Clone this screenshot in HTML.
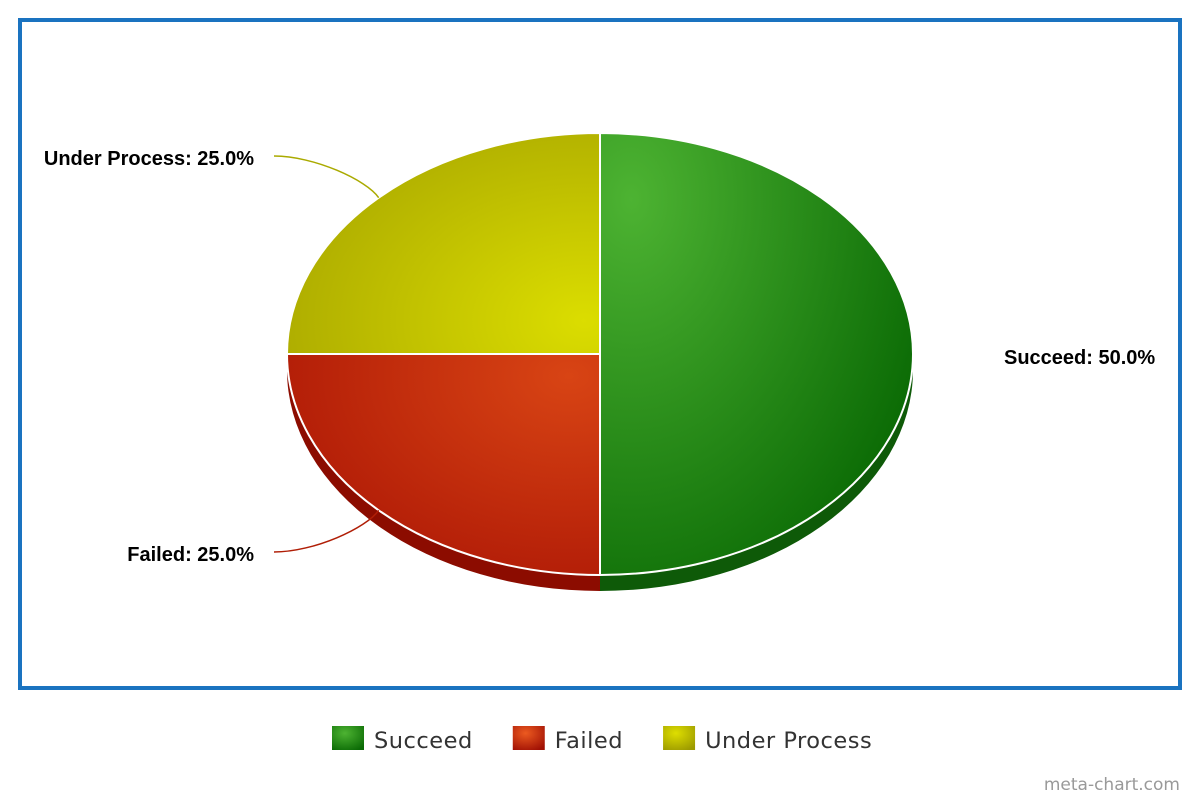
<!DOCTYPE html>
<html><head><meta charset="utf-8"><style>
html,body{margin:0;padding:0;background:#fff;width:1200px;height:800px;overflow:hidden}
</style></head><body>
<svg id="chart" width="1200" height="800" xmlns="http://www.w3.org/2000/svg">
<defs>
<radialGradient id="gS" cx="0.1" cy="0.15" r="1"><stop offset="0" stop-color="#4db332"/><stop offset="1" stop-color="#0b6b05"/></radialGradient>
<radialGradient id="gF" cx="0.9" cy="0.1" r="1.2"><stop offset="0" stop-color="#d84414"/><stop offset="1" stop-color="#a81204"/></radialGradient>
<radialGradient id="gU" cx="0.95" cy="0.85" r="1.2"><stop offset="0" stop-color="#dbdd00"/><stop offset="1" stop-color="#a4a200"/></radialGradient>
<radialGradient id="lS" cx="0.4" cy="0.3" r="0.8"><stop offset="0" stop-color="#4db332"/><stop offset="1" stop-color="#0b6b05"/></radialGradient>
<radialGradient id="lF" cx="0.4" cy="0.3" r="0.8"><stop offset="0" stop-color="#ec5a20"/><stop offset="1" stop-color="#a01004"/></radialGradient>
<radialGradient id="lU" cx="0.4" cy="0.3" r="0.8"><stop offset="0" stop-color="#dede00"/><stop offset="1" stop-color="#9c9a00"/></radialGradient>
</defs>
<rect x="20" y="20" width="1160" height="668" fill="#fff" stroke="#1a73c0" stroke-width="4"/>
<g id="pie"></g>
<g id="legend"></g>
<text x="1180" y="790" text-anchor="end" font-family="DejaVu Sans, sans-serif" font-size="17" fill="#999">meta-chart.com</text>
</svg>
<script>
const categories = ["Succeed", "Failed", "Under Process"];
const values = [50, 25, 25];
const fills = ["url(#gS)", "url(#gF)", "url(#gU)"];
const sides = ["#0e5a08", "#8c0c00", "#8a8800"];
const legendFills = ["url(#lS)", "url(#lF)", "url(#lU)"];
const lineColors = ["#0e6a08", "#b01e06", "#aaaa00"];

const NS = "http://www.w3.org/2000/svg";
const cx = 600, cy = 354, rx = 313, ry = 221, depth = 16;
const pie = document.getElementById("pie");
function mk(t, a, p) { const e = document.createElementNS(NS, t); for (const k in a) e.setAttribute(k, a[k]); (p || pie).appendChild(e); return e; }
function pt(a, dy) { return [cx + rx * Math.cos(a), cy + ry * Math.sin(a) + (dy || 0)]; }
const total = values.reduce((s, v) => s + v, 0);
let angles = [], acc = -Math.PI / 2;
values.forEach(v => { const a0 = acc; acc += v / total * 2 * Math.PI; angles.push([a0, acc]); });

angles.forEach(([a0, a1], i) => {
  const s = Math.max(a0, 0), e = Math.min(a1, Math.PI);
  if (e <= s) return;
  const p0 = pt(s), p1 = pt(e), q1 = pt(e, depth), q0 = pt(s, depth);
  const el = mk("path", { d: `M${p0} A${rx},${ry} 0 0 1 ${p1} L${q1} A${rx},${ry} 0 0 0 ${q0} Z`, fill: sides[i] });
  
  
});
angles.forEach(([a0, a1], i) => {
  const p0 = pt(a0), p1 = pt(a1), large = (a1 - a0) > Math.PI ? 1 : 0;
  const el = mk("path", { d: `M${cx},${cy} L${p0} A${rx},${ry} 0 ${large} 1 ${p1} Z`, fill: fills[i], stroke: "#fff", "stroke-width": 2, "stroke-linejoin": "round" });
  
  
});
angles.forEach(([a0, a1], i) => {
  const m = (a0 + a1) / 2, c = Math.cos(m), s = Math.sin(m);
  const txt = categories[i] + ": " + (values[i] / total * 100).toFixed(1) + "%";
  let lx, ly, anchor;
  if (Math.abs(s) < 0.2) {
    lx = cx + rx + 91; ly = cy + s * ry + 10; anchor = "start";
  } else {
    const e = pt(m);
    const end = [c < 0 ? 274 : 926, cy + s * 280];
    const dir = c < 0 ? -1 : 1;
    const ln = mk("path", { d: `M${e[0]},${e[1]} C${e[0] + dir * 12},${e[1] + s * 25} ${end[0] - dir * 40},${end[1]} ${end[0]},${end[1]}`, fill: "none", stroke: lineColors[i], "stroke-width": 1.5 });
    
    
    lx = end[0] + dir * 20; ly = end[1] + 9; anchor = c < 0 ? "end" : "start";
  }
  const t = mk("text", { x: lx, y: ly, "text-anchor": anchor, "font-family": "Liberation Sans, sans-serif", "font-size": 20, "font-weight": "bold", fill: "#000" });
  t.textContent = txt;
  
  
});
const lg = document.getElementById("legend");
let lxp = 332;
categories.forEach((c, i) => {
  const g = mk("g", {}, lg);
  
  
  mk("rect", { x: lxp, y: 726, width: 32, height: 24, fill: legendFills[i] }, g);
  const t = mk("text", { x: lxp + 42, y: 748, "font-family": "DejaVu Sans, sans-serif", "font-size": 22.5, "letter-spacing": 0.5, fill: "#333" }, g);
  t.textContent = c;
  lxp += 42 + t.getComputedTextLength() + 40;
});
</script>
</body></html>
